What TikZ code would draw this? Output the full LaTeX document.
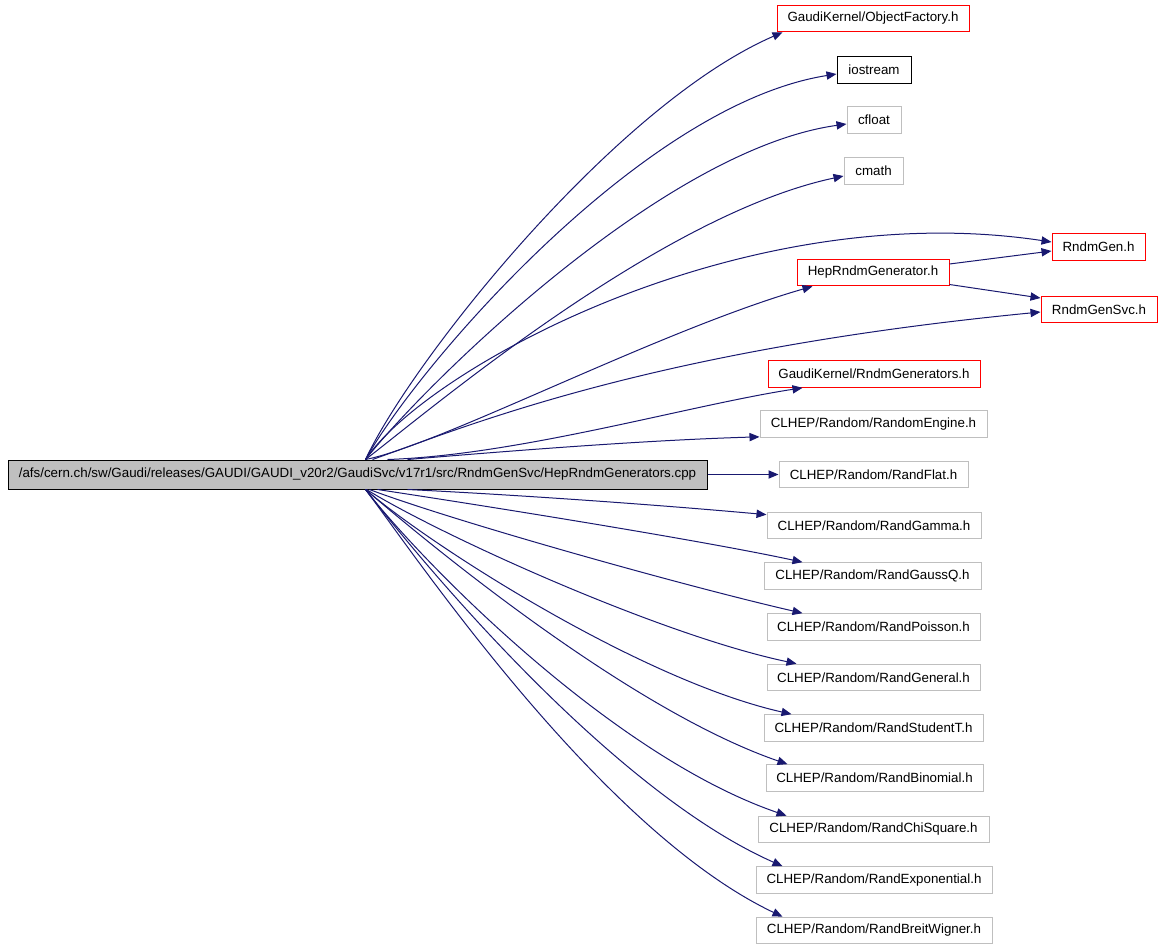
\documentclass[tikz,border=0pt]{standalone}
\usepackage{fontspec}
\setmainfont{Liberation Sans}
\usetikzlibrary{arrows.meta,calc}
\definecolor{edgeblue}{HTML}{191970}
\definecolor{boxgrey}{HTML}{BFBFBF}
\definecolor{boxred}{HTML}{FF0000}
\begin{document}
\begin{tikzpicture}[x=0.75pt,y=-0.75pt,
  box/.style={draw, line width=0.75pt, inner sep=0pt, minimum height=20pt, font=\fontsize{10pt}{12pt}\selectfont, text=black},
  redbox/.style={box, draw=boxred},
  greybox/.style={box, draw=boxgrey},
  blackbox/.style={box, draw=black},
  mainbox/.style={box, draw=black, fill=boxgrey, minimum height=21.75pt},
  w/.style={minimum width=#1*0.75pt},
  edge/.style={draw=edgeblue, line width=0.75pt, -{Triangle[length=7.5pt,width=6.2pt,fill=edgeblue]}}]
\useasboundingbox (0,0) rectangle (1162,949);
\fill[white] (0,0) rectangle (1162,949);
% nodes
\node[mainbox, w=699] (main) at (357.5,474.5) {/afs/cern.ch/sw/Gaudi/releases/GAUDI/GAUDI\_v20r2/GaudiSvc/v17r1/src/RndmGenSvc/HepRndmGenerators.cpp};
\node[redbox, w=192] (objf) at (873,18.5) {GaudiKernel/ObjectFactory.h};
\node[blackbox, w=74] (ios) at (874,70) {iostream};
\node[greybox, w=54] (cfl) at (874,120) {cfloat};
\node[greybox, w=59] (cma) at (873.5,171) {cmath};
\node[redbox, w=93] (rg) at (1098.5,247) {RndmGen.h};
\node[redbox, w=152] (hep) at (873,272.5) {HepRndmGenerator.h};
\node[redbox, w=116] (rgsvc) at (1099,309.5) {RndmGenSvc.h};
\node[redbox, w=212] (rgs) at (874,374) {GaudiKernel/RndmGenerators.h};
\node[greybox, w=227] (re) at (873.5,424) {CLHEP/Random/RandomEngine.h};
\node[greybox, w=189] (flat) at (873.5,474.5) {CLHEP/Random/RandFlat.h};
\node[greybox, w=214] (gam) at (874,525.5) {CLHEP/Random/RandGamma.h};
\node[greybox, w=217] (gq) at (872.5,576) {CLHEP/Random/RandGaussQ.h};
\node[greybox, w=213] (poi) at (873.5,627) {CLHEP/Random/RandPoisson.h};
\node[greybox, w=213] (gen) at (873.5,677.5) {CLHEP/Random/RandGeneral.h};
\node[greybox, w=219] (stu) at (873.5,728) {CLHEP/Random/RandStudentT.h};
\node[greybox, w=217] (bin) at (874.5,778) {CLHEP/Random/RandBinomial.h};
\node[greybox, w=231] (chi) at (873.5,829.5) {CLHEP/Random/RandChiSquare.h};
\node[greybox, w=236] (expo) at (874,880) {CLHEP/Random/RandExponential.h};
\node[greybox, w=236] (bw) at (874,930.5) {CLHEP/Random/RandBreitWigner.h};
% edges upward
\draw[edge] ($(main.north)+(8,0)$) .. controls (412,360) and (615,105) .. ($(objf.south west)+(6,0)$);
\draw[edge] ($(main.north)+(8,0)$) .. controls (415,370) and (640,105) .. ($(ios.west)+(0,4)$);
\draw[edge] ($(main.north)+(8,0)$) .. controls (420,390) and (660,150) .. ($(cfl.west)+(0,4)$);
\draw[edge] ($(main.north)+(8,0)$) .. controls (430,410) and (660,215) .. ($(cma.west)+(0,5)$);
\draw[edge] ($(main.north)+(8,0)$) .. controls (425,370) and (740,195) .. ($(rg.west)+(0,-5)$);
\draw[edge] ($(main.north)+(8,0)$) .. controls (440,445) and (660,330) .. ($(hep.south west)+(16,0)$);
\draw[edge] ($(main.north)+(15,0)$) .. controls (470,425) and (650,350) .. ($(rgsvc.west)+(0,2.5)$);
\draw[edge] ($(main.north)+(30,0)$) .. controls (520,455) and (690,405) .. ($(rgs.south west)+(35,0)$);
\draw[edge] ($(main.north)+(50,0)$) .. controls (520,450) and (650,440) .. ($(re.south west)+(0,-1)$);
% straight
\draw[edge] (main.east) -- (flat.west);
% edges downward
\draw[edge] ($(main.south)+(50,0)$) .. controls (520,495) and (660,505) .. ($(gam.north west)+(0,3)$);
\draw[edge] ($(main.south)+(20,0)$) .. controls (480,505) and (700,540) .. ($(gq.north west)+(39,0)$);
\draw[edge] ($(main.south)+(12,0)$) .. controls (450,520) and (680,585) .. ($(poi.north west)+(36,0)$);
\draw[edge] ($(main.south)+(9,0)$) .. controls (440,535) and (660,635) .. ($(gen.north west)+(30,0)$);
\draw[edge] ($(main.south)+(8,0)$) .. controls (430,545) and (640,680) .. ($(stu.north west)+(28,0)$);
\draw[edge] ($(main.south)+(8,0)$) .. controls (430,545) and (630,710) .. ($(bin.north west)+(22,0)$);
\draw[edge] ($(main.south)+(8,0)$) .. controls (420,560) and (610,755) .. ($(chi.north west)+(29,0)$);
\draw[edge] ($(main.south)+(8,0)$) .. controls (420,560) and (610,790) .. ($(expo.north west)+(27,0)$);
\draw[edge] ($(main.south)+(8,0)$) .. controls (415,555) and (600,830) .. ($(bw.north west)+(27,0)$);
% from HepRndmGenerator.h
\draw[edge] ($(hep.east)+(0,-8.5)$) -- ($(rg.west)+(0,4)$);
\draw[edge] ($(hep.east)+(0,12)$) -- ($(rgsvc.west)+(0,-11.5)$);
\end{tikzpicture}
\end{document}
